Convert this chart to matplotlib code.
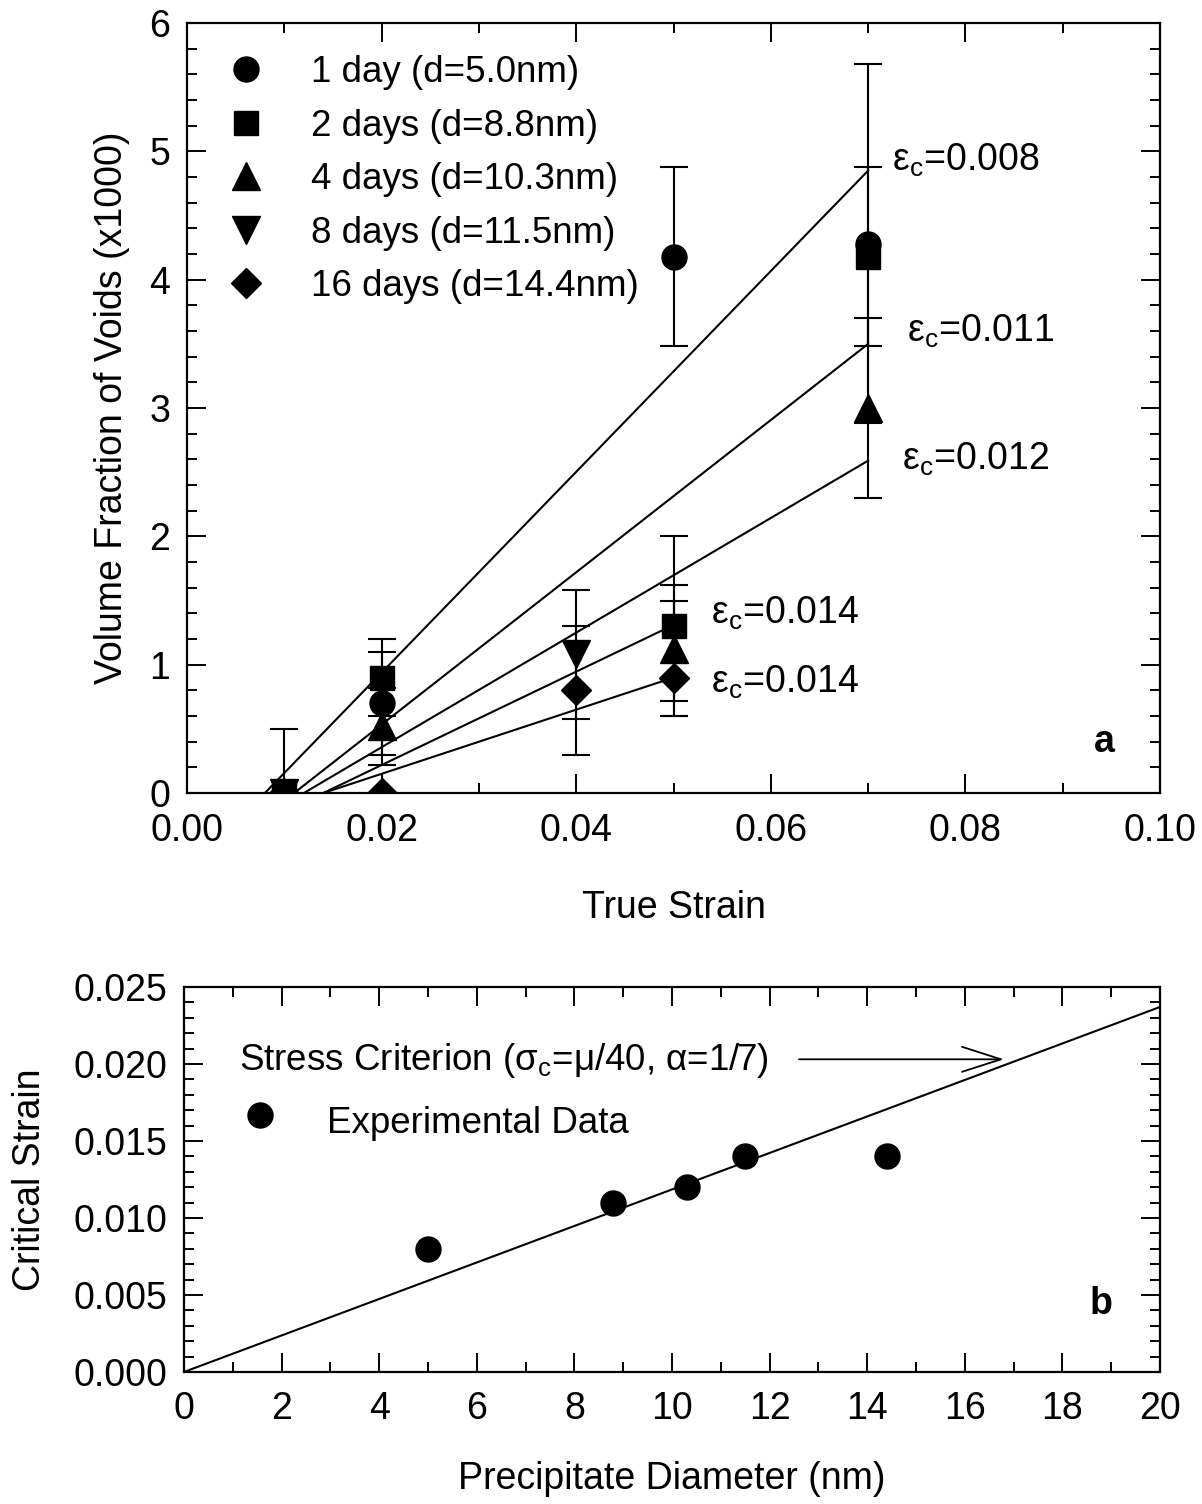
import matplotlib
matplotlib.use("Agg")
import matplotlib.pyplot as plt
from matplotlib.lines import Line2D
from matplotlib.ticker import MultipleLocator, FormatStrFormatter

plt.rcParams['font.family'] = ['Liberation Sans', 'DejaVu Sans']
plt.rcParams['mathtext.fontset'] = 'custom'
plt.rcParams['mathtext.rm'] = 'Liberation Sans'
plt.rcParams['mathtext.it'] = 'Liberation Sans:italic'

# ---------------- data: panel a ----------------
series_labels = ["1 day (d=5.0nm)", "2 days (d=8.8nm)", "4 days (d=10.3nm)",
                 "8 days (d=11.5nm)", "16 days (d=14.4nm)"]
series_markers = ['o', 's', '^', 'v', 'D']

day1_x = [0.01, 0.02, 0.05, 0.07]
day1_y = [0.0, 0.7, 4.18, 4.28]
day1_err_lo = [0.5, 0.4, 0.7, 1.4]
day1_err_hi = [0.5, 0.4, 0.7, 1.4]

day2_x = [0.01, 0.02, 0.05, 0.07]
day2_y = [0.0, 0.9, 1.3, 4.18]
day2_err_lo = [0.0, 0.3, 0.7, 0.7]
day2_err_hi = [0.0, 0.3, 0.7, 0.7]

day4_x = [0.01, 0.02, 0.05, 0.07]
day4_y = [0.0, 0.52, 1.12, 3.0]
day4_err_lo = [0.0, 0.3, 0.4, 0.7]
day4_err_hi = [0.0, 0.3, 0.5, 0.7]

day8_x = [0.01, 0.04]
day8_y = [0.0, 1.08]
day8_err_lo = [0.0, 0.5]
day8_err_hi = [0.0, 0.5]

day16_x = [0.01, 0.02, 0.04, 0.05]
day16_y = [0.0, 0.0, 0.8, 0.9]
day16_err_lo = [0.0, 0.0, 0.5, 0.3]
day16_err_hi = [0.0, 0.0, 0.5, 0.6]

# linear fits: start at critical strain (y=0), end point
fit_eps_c = [0.008, 0.011, 0.012, 0.014, 0.014]
fit_end_x = [0.07, 0.07, 0.07, 0.05, 0.05]
fit_end_y = [4.85, 3.50, 2.59, 1.31, 0.90]
fit_labels = ["0.008", "0.011", "0.012", "0.014", "0.014"]

# ---------------- data: panel b ----------------
diameter_nm = [5.0, 8.8, 10.3, 11.5, 14.4]
critical_strain = [0.008, 0.011, 0.012, 0.014, 0.014]
model_d = [0.0, 20.0]
model_strain = [0.0, 0.0237]

# ---------------- figure ----------------
fig = plt.figure(figsize=(12.02, 15.04), dpi=100)
ax1 = fig.add_axes([0.1556, 0.4727, 0.8095, 0.5120])
ax2 = fig.add_axes([0.1531, 0.0878, 0.8120, 0.2560])

FS_TICK = 27
FS_LEG = 26.5
FS_LAB = 27
ms_map = {'o': 18, 's': 17, '^': 20, 'v': 20, 'D': 15}

all_series = [
    (day1_x, day1_y, day1_err_lo, day1_err_hi),
    (day2_x, day2_y, day2_err_lo, day2_err_hi),
    (day4_x, day4_y, day4_err_lo, day4_err_hi),
    (day8_x, day8_y, day8_err_lo, day8_err_hi),
    (day16_x, day16_y, day16_err_lo, day16_err_hi),
]

# fit lines
for e0, xe, ye in zip(fit_eps_c, fit_end_x, fit_end_y):
    ax1.plot([e0, xe], [0, ye], color='black', lw=1.5, zorder=2)

for (xs, ys, lo, hi), mk in zip(all_series, series_markers):
    ax1.errorbar(xs, ys, yerr=[lo, hi], fmt=mk, color='black', mfc='black', mec='black',
                 ms=ms_map[mk], capsize=10, elinewidth=1.5, capthick=1.5, zorder=3)

# epsilon_c labels
lab_pos = [(0.0725, 4.93), (0.0740, 3.60), (0.0735, 2.60), (0.0538, 1.40), (0.0538, 0.86)]
for (tx, ty), lab in zip(lab_pos, fit_labels):
    ax1.text(tx, ty, "ε$_\\mathrm{c}$=" + lab, fontsize=FS_TICK, va='center', ha='left')

ax1.text(0.0932, 0.40, "a", fontsize=27, fontweight='bold', va='center', ha='left')

handles = [Line2D([], [], ls='none', marker=mk, color='black', ms=ms_map[mk])
           for mk in series_markers]
leg = ax1.legend(handles, series_labels, loc='upper left', bbox_to_anchor=(0.042, 0.958),
                 frameon=False, fontsize=FS_LEG, handlelength=1.0, handletextpad=1.25,
                 labelspacing=0.5, borderpad=0, borderaxespad=0)

ax1.set_xlim(0, 0.10)
ax1.set_ylim(0, 6)
ax1.xaxis.set_major_locator(MultipleLocator(0.02))
ax1.xaxis.set_minor_locator(MultipleLocator(0.01))
ax1.yaxis.set_major_locator(MultipleLocator(1))
ax1.yaxis.set_minor_locator(MultipleLocator(0.2))
ax1.xaxis.set_major_formatter(FormatStrFormatter('%.2f'))
ax1.set_xlabel("True Strain", fontsize=FS_LAB, labelpad=30)
ax1.set_ylabel("Volume Fraction of Voids (x1000)", fontsize=FS_LAB, labelpad=14)

# panel b
ax2.plot(model_d, model_strain, color='black', lw=1.5, zorder=2)
ax2.plot(diameter_nm, critical_strain, ls='none', marker='o', color='black', ms=18, zorder=3)
ax2.text(1.13, 0.0202, "Stress Criterion (σ$_\\mathrm{c}$=μ/40, α=1/7)", fontsize=FS_LEG,
         va='center', ha='left')
ax2.annotate("", xy=(16.8, 0.0203), xytext=(12.6, 0.0203),
             arrowprops=dict(arrowstyle='->, head_length=1.4, head_width=0.45',
                             mutation_scale=20, color='black', lw=1.3, shrinkA=0, shrinkB=0))
ax2.plot([1.56], [0.0167], ls='none', marker='o', color='black', ms=18)
ax2.text(2.93, 0.0161, "Experimental Data", fontsize=FS_LEG, va='center', ha='left')
ax2.text(18.55, 0.0044, "b", fontsize=27, fontweight='bold', va='center', ha='left')

ax2.set_xlim(0, 20)
ax2.set_ylim(0, 0.025)
ax2.xaxis.set_major_locator(MultipleLocator(2))
ax2.xaxis.set_minor_locator(MultipleLocator(1))
ax2.yaxis.set_major_locator(MultipleLocator(0.005))
ax2.yaxis.set_minor_locator(MultipleLocator(0.001))
ax2.yaxis.set_major_formatter(FormatStrFormatter('%.3f'))
ax2.set_xlabel("Precipitate Diameter (nm)", fontsize=FS_LAB, labelpad=24)
ax2.set_ylabel("Critical Strain", fontsize=FS_LAB, labelpad=18)

for ax in (ax1, ax2):
    for s in ax.spines.values():
        s.set_linewidth(1.6)
    ax.tick_params(which='both', direction='in', top=True, right=True, width=1.4,
                   labelsize=FS_TICK)
    ax.tick_params(which='major', length=14, pad=12)
    ax.tick_params(which='minor', length=7)
    ax.tick_params(axis='x', which='major', pad=14)

fig.savefig("out.png", dpi=100)
